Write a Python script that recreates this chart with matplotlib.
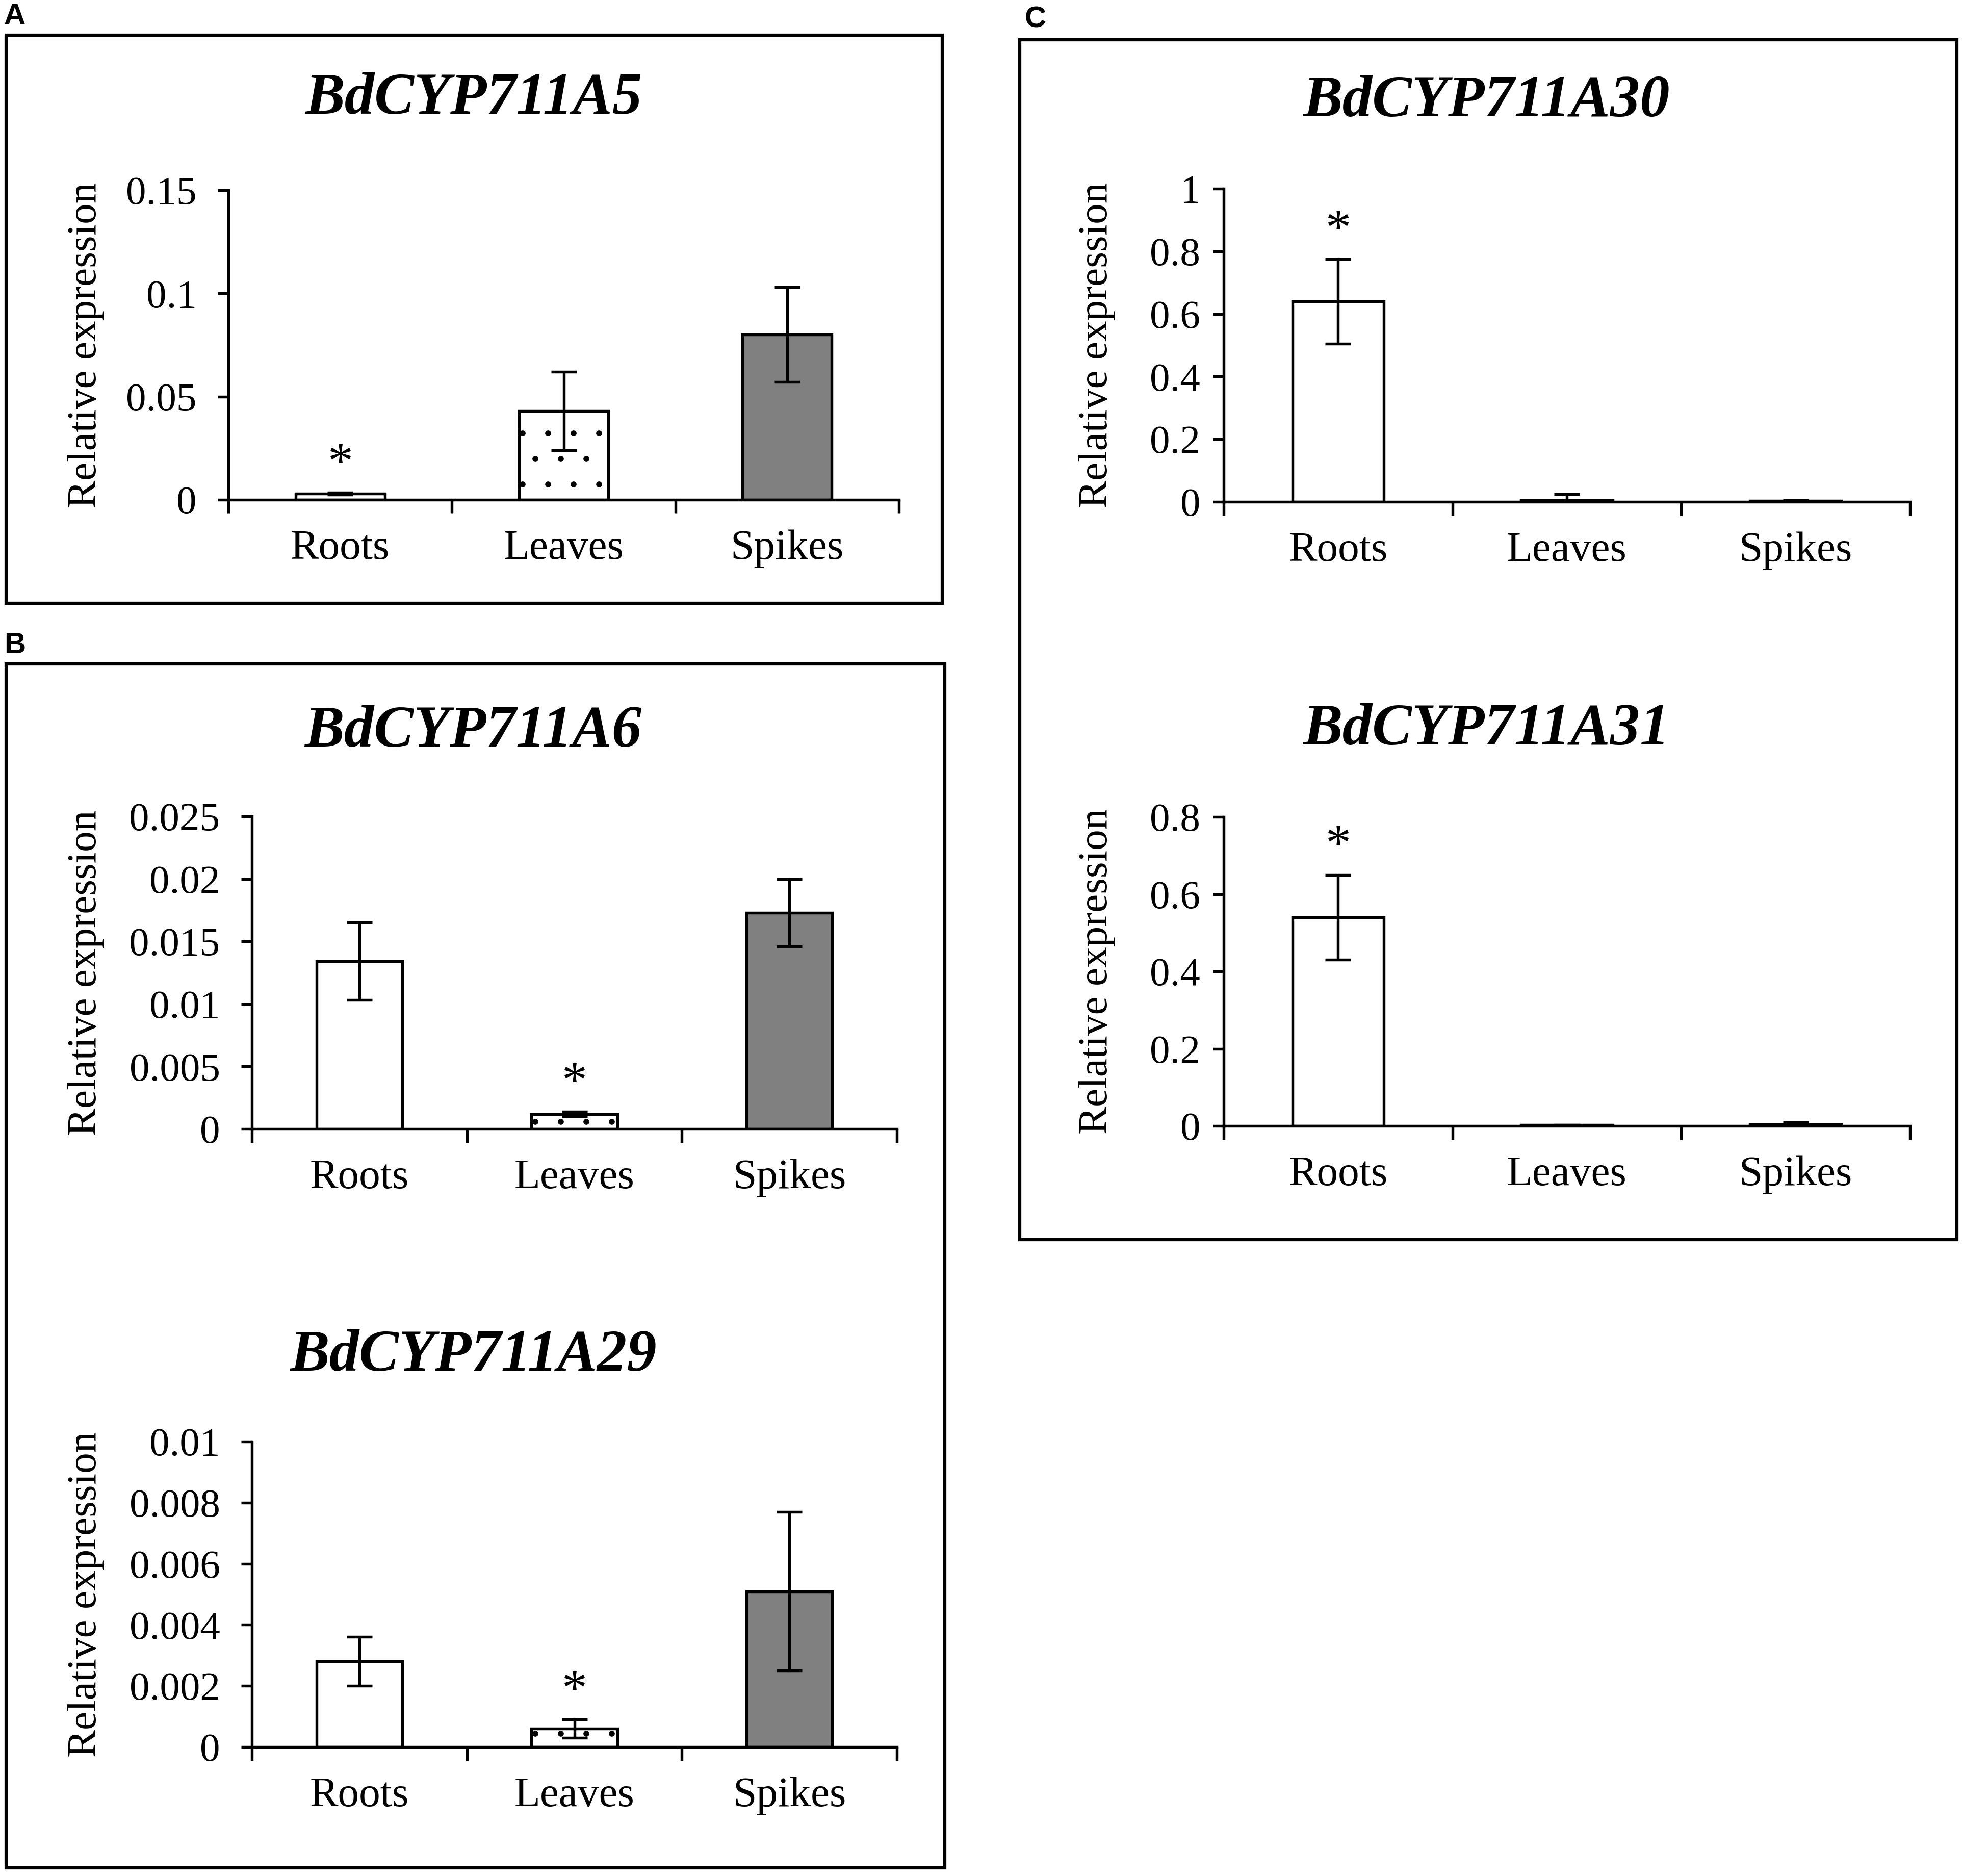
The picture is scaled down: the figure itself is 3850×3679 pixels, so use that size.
import matplotlib
matplotlib.use("Agg")
import matplotlib.pyplot as plt
from matplotlib.patches import Rectangle

W, H = 3850, 3679
DPI = 300

plt.rcParams['font.family'] = ['Liberation Serif', 'DejaVu Serif']
plt.rcParams['hatch.linewidth'] = 0.4

tissues = ["Roots", "Leaves", "Spikes"]

# BdCYP711A5
a5_mean = [0.003, 0.043, 0.080]
a5_err = [0.0005, 0.019, 0.023]
a5_ticks = [0, 0.05, 0.1, 0.15]
a5_labels = ["0", "0.05", "0.1", "0.15"]

# BdCYP711A6
a6_mean = [0.0134, 0.0012, 0.0173]
a6_err = [0.0031, 0.0002, 0.0027]
a6_ticks = [0, 0.005, 0.01, 0.015, 0.02, 0.025]
a6_labels = ["0", "0.005", "0.01", "0.015", "0.02", "0.025"]

# BdCYP711A29
a29_mean = [0.0028, 0.0006, 0.0051]
a29_err = [0.0008, 0.0003, 0.0026]
a29_ticks = [0, 0.002, 0.004, 0.006, 0.008, 0.01]
a29_labels = ["0", "0.002", "0.004", "0.006", "0.008", "0.01"]

# BdCYP711A30
a30_mean = [0.64, 0.005, 0.003]
a30_err = [0.135, 0.02, 0.002]
a30_ticks = [0, 0.2, 0.4, 0.6, 0.8, 1.0]
a30_labels = ["0", "0.2", "0.4", "0.6", "0.8", "1"]

# BdCYP711A31
a31_mean = [0.54, 0.002, 0.004]
a31_err = [0.11, 0.001, 0.005]
a31_ticks = [0, 0.2, 0.4, 0.6, 0.8]
a31_labels = ["0", "0.2", "0.4", "0.6", "0.8"]

bar_colors = ["white", "white", "#808080"]
bar_hatch = ["", ".", ""]


def px_rect(x0, y0, x1, y1):
    # pixel box (top-left origin) -> figure fraction [l, b, w, h]
    return [x0 / W, 1 - y1 / H, (x1 - x0) / W, (y1 - y0) / H]


def draw_panel(fig, rect, title, title_xy, mean, err, ticks, labels, star, ylab_x, tick_pad):
    x0, y0, x1, y1 = rect
    ax = fig.add_axes(px_rect(x0, y0, x1, y1))
    xs = [0.5, 1.5, 2.5]
    bars = ax.bar(xs, mean, width=0.4, color=bar_colors, edgecolor="black", linewidth=1.3, zorder=2)
    for b, h in zip(bars, bar_hatch):
        b.set_hatch(h)
    ax.errorbar(xs, mean, yerr=err, fmt="none", ecolor="black", elinewidth=1.3,
                capsize=6, capthick=1.3, zorder=3)
    ax.annotate("*", (xs[star], mean[star] + err[star]), xytext=(0, 13),
                textcoords="offset points", ha="center", va="center", fontsize=24)

    ax.set_xlim(0, 3)
    ax.set_ylim(0, ticks[-1])
    ax.set_xticks([0, 1, 2, 3])
    ax.set_xticklabels([])
    ax.set_xticks(xs, minor=True)
    ax.set_xticklabels(tissues, minor=True, fontsize=20)
    ax.tick_params(axis="x", which="major", length=6.5, width=1.3, direction="out")
    ax.tick_params(axis="x", which="minor", length=0, pad=14)
    ax.set_yticks(ticks)
    ax.set_yticklabels(labels, fontsize=19)
    ax.tick_params(axis="y", length=5, width=1.3, direction="out", pad=tick_pad)
    for s in ["top", "right"]:
        ax.spines[s].set_visible(False)
    for s in ["left", "bottom"]:
        ax.spines[s].set_linewidth(1.3)
    ax.set_ylabel("Relative expression", fontsize=19.5)
    # anchor is the baseline side of the rotated label
    ax.yaxis.set_label_coords((ylab_x - x0) / (x1 - x0), 0.5)

    fig.text(title_xy[0] / W, 1 - title_xy[1] / H, title, ha="center", va="center",
             fontsize=28, fontweight="bold", fontstyle="italic")
    return ax


fig = plt.figure(figsize=(W / DPI, H / DPI), dpi=DPI)
fig.patch.set_facecolor("white")

# panel boxes
for bx in [(12, 69, 1848, 1183), (12, 1302, 1853, 3663), (2000, 78, 3838, 2431)]:
    l, b, w, h = px_rect(*bx)
    fig.add_artist(Rectangle((l, b), w, h, transform=fig.transFigure, fill=False,
                             edgecolor="black", linewidth=1.5))

for letter, (lx, ly) in zip("ABC", [(8, 32), (8, 1266), (2010, 38)]):
    fig.text(lx / W, 1 - ly / H, letter, ha="left", va="center", fontsize=14,
             fontweight="bold", family=["Liberation Sans", "DejaVu Sans"])

draw_panel(fig, (448, 373, 1763, 980), "BdCYP711A5", (929, 195),
           a5_mean, a5_err, a5_ticks, a5_labels, 0, 205, 10)
draw_panel(fig, (494, 1601, 1759, 2214), "BdCYP711A6", (928, 1436),
           a6_mean, a6_err, a6_ticks, a6_labels, 1, 205, 10)
draw_panel(fig, (494, 2827, 1759, 3426), "BdCYP711A29", (928, 2660),
           a29_mean, a29_err, a29_ticks, a29_labels, 1, 205, 10)
draw_panel(fig, (2400, 370, 3746, 984), "BdCYP711A30", (2915, 200),
           a30_mean, a30_err, a30_ticks, a30_labels, 0, 2188, 6)
draw_panel(fig, (2400, 1602, 3746, 2208), "BdCYP711A31", (2915, 1432),
           a31_mean, a31_err, a31_ticks, a31_labels, 0, 2188, 6)

fig.savefig("out.png", dpi=DPI, facecolor="white")
